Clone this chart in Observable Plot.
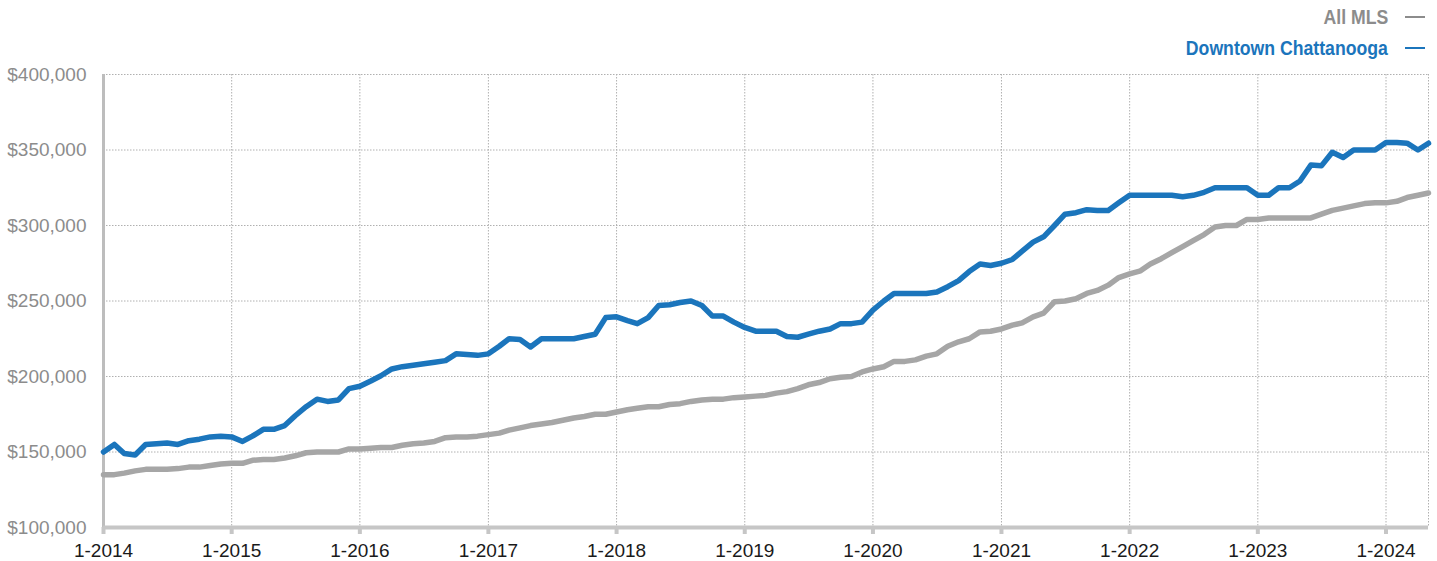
<!DOCTYPE html>
<html>
<head>
<meta charset="utf-8">
<script src="https://cdn.jsdelivr.net/npm/d3@7"></script>
<script src="https://cdn.jsdelivr.net/npm/@observablehq/plot@0.6"></script>
<style>
  html, body { margin: 0; padding: 0; background: #fff; }
  #wrap { position: relative; width: 1437px; height: 561px; overflow: hidden; }
  #legend { position: relative; height: 60px; width: 1437px; }
  .key {
    position: absolute; right: 12px; display: flex; align-items: center;
    font-family: "Liberation Sans", Arial, sans-serif;
    font-weight: bold; font-size: 20px; line-height: 20px; white-space: nowrap;
  }
  .key .name { display: inline-block; transform-origin: right center; }
  .key .dash { display: inline-block; width: 20px; height: 2px; margin-left: 17px; }
</style>
</head>
<body>
<div id="wrap">
  <div id="legend"></div>
  <div id="chart"></div>
</div>
<script>
// Median sales price by month, January 2014 through May 2024
const seriesNames = ["All MLS", "Downtown Chattanooga"];
const seriesColors = ["#a6a6a6", "#1b75bc"];
const legendTextColors = ["#8c8c8c", "#1b75bc"];

const allMls = [
  135000, 135000, 136000, 137500, 138500, 138500, 138500, 139000, 140000, 140000, 141000, 142000,
  142500, 142500, 144500, 145000, 145000, 146000, 147500, 149500, 150000, 150000, 150000, 152000,
  152000, 152500, 153000, 153000, 154500, 155500, 156000, 157000, 159500, 160000, 160000, 160500,
  161500, 162500, 164500, 166000, 167500, 168500, 169500, 171000, 172500, 173500, 175000, 175000,
  176500, 178000, 179000, 180000, 180000, 181500, 182000, 183500, 184500, 185000, 185000, 186000,
  186500, 187000, 187500, 189000, 190000, 192000, 194500, 196000, 198500, 199500, 200000, 203000,
  205000, 206500, 210000, 210000, 211000, 213500, 215000, 220000, 223000, 225000, 229500, 230000,
  231500, 234000, 235500, 239500, 242000, 249500, 250000, 251500, 255000, 257000, 260500, 265500,
  268000, 270000, 274500, 278000, 282000, 286000, 290000, 294000, 299000, 300000, 300000, 304000,
  304000, 305000, 305000, 305000, 305000, 305000, 307500, 310000, 311500, 313000, 314500, 315000,
  315000, 316000, 318500, 320000, 321500
];

const downtown = [
  150000, 155000, 149000, 148000, 155000, 155500, 156000, 155000, 157500, 158500, 160000, 160500,
  160000, 157000, 160500, 165000, 165000, 167500, 174000, 180000, 185000, 183500, 184500, 192000,
  193500, 197000, 200500, 205000, 206500, 207500, 208500, 209500, 210500, 215000, 214500, 214000,
  215000, 220000, 225000, 224500, 219500, 225000, 225000, 225000, 225000, 226500, 228000, 239000,
  239500, 237000, 235000, 239000, 247000, 247500, 249000, 250000, 247000, 240000, 240000, 236000,
  232500, 230000, 230000, 230000, 226500, 226000, 228000, 230000, 231500, 235000, 235000, 236000,
  244000, 250000, 255000, 255000, 255000, 255000, 256000, 259500, 263500, 269500, 274500, 273500,
  275000, 277500, 283000, 289000, 292500, 300000, 307500, 308500, 310500, 310000, 310000, 315000,
  320000, 320000, 320000, 320000, 320000, 319000, 320000, 322000, 325000, 325000, 325000, 325000,
  320000, 320000, 325000, 325000, 329500, 340000, 339500, 348500, 345000, 350000, 350000, 350000,
  355000, 355000, 354500, 350000, 354500
];

const yTicks = [100000, 150000, 200000, 250000, 300000, 350000, 400000];
const startMonth = new Date(Date.UTC(2014, 0, 1));
const endMonth = new Date(Date.UTC(2024, 4, 1));
const months = d3.utcMonth.range(startMonth, d3.utcMonth.offset(endMonth, 1));
const yearTicks = d3.utcYear.range(startMonth, endMonth);

const rows = [];
[allMls, downtown].forEach((vals, s) => {
  vals.forEach((v, i) => rows.push({date: months[i], value: v, series: seriesNames[s]}));
});

// Legend, right-aligned above the plot, set in a condensed bold face
const legend = document.getElementById("legend");
const names = [];
seriesNames.forEach((name, s) => {
  const k = document.createElement("div");
  k.className = "key";
  k.style.top = (s === 0 ? 7 : 38) + "px";
  k.style.color = legendTextColors[s];
  const t = document.createElement("span");
  t.className = "name";
  t.textContent = name;
  const d = document.createElement("span");
  d.className = "dash";
  d.style.background = legendTextColors[s];
  k.append(t, d);
  legend.append(k);
  names.push(t);
});
// narrow the legend text horizontally so the long label is 202px wide
const squeeze = 202 / names[1].getBoundingClientRect().width;
names.forEach(t => { t.style.transform = `scaleX(${squeeze})`; });

const chart = Plot.plot({
  width: 1437,
  height: 501,
  marginTop: 14,
  marginBottom: 34,
  marginLeft: 103,
  marginRight: 9,
  style: {fontFamily: "'Liberation Sans', Arial, sans-serif", fontSize: "19px", background: "#fff"},
  x: {type: "utc", domain: [startMonth, endMonth]},
  y: {domain: [100000, 400000]},
  color: {domain: seriesNames, range: seriesColors},
  marks: [
    Plot.gridY(yTicks, {stroke: "#b0b0b0", strokeOpacity: 1, strokeDasharray: "1.5,1.5"}),
    Plot.gridX([...yearTicks, endMonth], {stroke: "#b0b0b0", strokeOpacity: 1, strokeDasharray: "1.5,1.5"}),
    Plot.ruleX([startMonth], {stroke: "#bdbdbd", strokeWidth: 3}),
    Plot.axisY(yTicks, {
      tickSize: 0, tickPadding: 17, tickFormat: d3.format("$,"),
      fill: "#8c8c8c", fontSize: 19, label: null
    }),
    Plot.axisX(yearTicks, {
      tickSize: 7, tickPadding: 9, stroke: "#c6c6c6", strokeWidth: 4,
      tickFormat: d => `${d.getUTCMonth() + 1}-${d.getUTCFullYear()}`,
      fill: "#1a1a1a", fontSize: 19, label: null
    }),
    Plot.ruleY([100000], {stroke: "#c6c6c6", strokeWidth: 4}),
    Plot.line(rows, {x: "date", y: "value", z: "series", stroke: "series", strokeWidth: 5.5})
  ]
});
document.getElementById("chart").append(chart);
</script>
</body>
</html>
